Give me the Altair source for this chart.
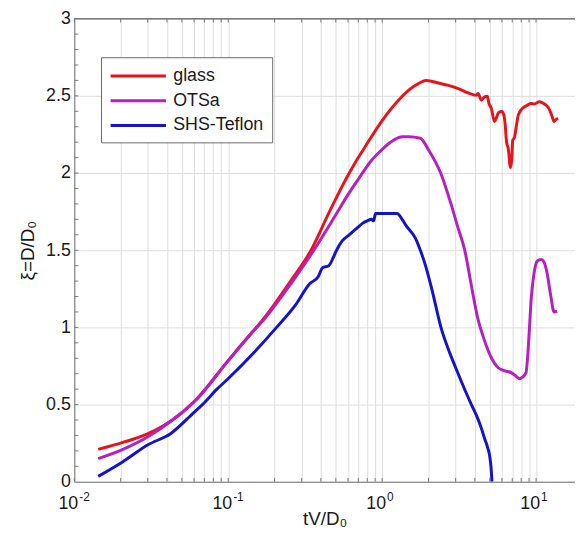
import altair as alt
import pandas as pd

# ---------------- data ----------------
series_names = ["glass", "OTSa", "SHS-Teflon"]
series_colors = ["#e8141c", "#b61fc2", "#1414cc"]

glass_x = [0.0143, 0.0207, 0.0299, 0.0434, 0.063, 0.0991, 0.13, 0.177, 0.25, 0.345, 0.45,
           0.581, 0.7, 0.786, 1.0, 1.3, 1.6, 1.95, 2.32, 2.69, 3.12, 3.62, 4.09, 4.20, 4.41,
           4.63, 4.82, 4.94, 5.12, 5.37, 5.51, 5.70, 5.99, 6.17, 6.30, 6.42, 6.61, 6.81,
           6.95, 7.05, 7.23, 7.41, 7.67, 8.17, 8.81, 9.25, 9.72, 10.5, 11.0, 11.6, 12.1,
           12.6, 13.1, 13.4, 13.9]
glass_y = [0.21, 0.255, 0.31, 0.40, 0.54, 0.78, 0.92, 1.08, 1.29, 1.50, 1.74,
           1.96, 2.10, 2.18, 2.34, 2.48, 2.56, 2.60, 2.583, 2.568, 2.547, 2.519, 2.504, 2.515, 2.472,
           2.494, 2.498, 2.451, 2.419, 2.334, 2.355, 2.391, 2.398, 2.377, 2.313, 2.206, 2.153, 2.036,
           2.089, 2.213, 2.228, 2.291, 2.377, 2.419, 2.44, 2.451, 2.447, 2.462, 2.455, 2.44, 2.419,
           2.377, 2.334, 2.345, 2.355]

otsa_x = [0.0143, 0.0207, 0.0299, 0.0434, 0.063, 0.0991, 0.13, 0.177, 0.25, 0.36, 0.5,
          0.6, 0.7, 0.85, 0.97, 1.1, 1.22, 1.35, 1.49, 1.77, 2.0, 2.4, 2.8, 3.1, 3.44, 3.8,
          4.2, 4.5, 4.86, 5.2, 5.65, 6.2, 6.88, 7.3, 7.78, 8.2, 8.6, 8.8, 9.0, 9.25,
          9.7, 10.2, 10.8, 11.3, 11.8, 12.4, 13.1, 13.7]
otsa_y = [0.15, 0.21, 0.29, 0.40, 0.54, 0.78, 0.92, 1.07, 1.27, 1.50, 1.73,
          1.86, 1.96, 2.08, 2.14, 2.19, 2.22, 2.235, 2.235, 2.225, 2.15, 2.0, 1.8, 1.65, 1.5, 1.27,
          1.05, 0.95, 0.855, 0.79, 0.74, 0.72, 0.707, 0.69, 0.668, 0.68, 0.707, 0.80, 0.95, 1.153,
          1.35, 1.43, 1.44, 1.42, 1.35, 1.217, 1.10, 1.106]

teflon_x = [0.0143, 0.0207, 0.0299, 0.0424, 0.06, 0.068, 0.0845, 0.099, 0.146, 0.206, 0.277,
            0.337, 0.385, 0.41, 0.45, 0.48, 0.50, 0.55, 0.611, 0.68, 0.745, 0.8, 0.85, 0.88,
            0.906, 1.25, 1.35, 1.42, 1.64, 1.77, 1.90, 2.10, 2.41, 2.76, 3.0, 3.3, 3.8,
            4.10, 4.4, 4.63, 4.85, 4.99, 5.1, 5.17]
teflon_y = [0.035, 0.13, 0.238, 0.313, 0.45, 0.5, 0.60, 0.664, 0.834, 1.0, 1.153,
            1.281, 1.33, 1.387, 1.40, 1.45, 1.49, 1.56, 1.60, 1.64, 1.674, 1.69, 1.70, 1.69,
            1.738, 1.738, 1.70, 1.664, 1.58, 1.50, 1.41, 1.25, 1.0, 0.83, 0.74, 0.64, 0.5,
            0.43, 0.35, 0.28, 0.22, 0.17, 0.09, 0.0]

x_grid_values = [0.01, 0.02, 0.03, 0.04, 0.05, 0.06, 0.07, 0.08, 0.09,
                 0.1, 0.2, 0.3, 0.4, 0.5, 0.6, 0.7, 0.8, 0.9,
                 1, 2, 3, 4, 5, 6, 7, 8, 9, 10]
y_major_values = [0, 0.5, 1, 1.5, 2, 2.5, 3]
y_minor_values = [0.1, 0.2, 0.3, 0.4, 0.6, 0.7, 0.8, 0.9, 1.1, 1.2, 1.3, 1.4,
                  1.6, 1.7, 1.8, 1.9, 2.1, 2.2, 2.3, 2.4, 2.6, 2.7, 2.8, 2.9,
                  0.5, 1.0, 1.5, 2.0, 2.5]
decade_values = [0.01, 0.1, 1, 10]
decade_base = ["10", "10", "10", "10"]
decade_exp = ["-2", "-1", "0", "1"]

X_MIN, X_MAX = 0.01, 17.9
Y_MIN, Y_MAX = 0.0, 3.0

# ---------------- tables ----------------
rows = []
for name, xs, ys in zip(series_names, [glass_x, otsa_x, teflon_x], [glass_y, otsa_y, teflon_y]):
    for i, (xv, yv) in enumerate(zip(xs, ys)):
        rows.append({"x": xv, "y": yv, "series": name, "i": i})
df = pd.DataFrame(rows)

xt = pd.DataFrame({"x": x_grid_values})
yt = pd.DataFrame({"y": y_minor_values})
dec = pd.DataFrame({"x": decade_values, "base": decade_base, "exp": decade_exp})

FONT = "Liberation Sans"
xscale = alt.Scale(type="log", domain=[X_MIN, X_MAX], nice=False)
yscale = alt.Scale(domain=[Y_MIN, Y_MAX], nice=False)

lines = alt.Chart(df).mark_line(strokeWidth=3, clip=True, strokeJoin="round",
                                interpolate="monotone").encode(
    x=alt.X("x:Q", scale=xscale,
            axis=alt.Axis(values=x_grid_values, labels=False, ticks=False, grid=True,
                          gridColor="#dedede", gridWidth=1, domainColor="#7a7a7a",
                          title="tV/D₀", titleFontSize=19, titleFont=FONT,
                          titleFontWeight="normal", titleColor="#1a1a1a", titlePadding=28)),
    y=alt.Y("y:Q", scale=yscale,
            axis=alt.Axis(values=y_major_values, ticks=False, grid=True,
                          gridColor="#dedede", gridWidth=1, domainColor="#7a7a7a",
                          labelFontSize=18, labelFont=FONT, labelColor="#1a1a1a",
                          labelPadding=4,
                          labelExpr="datum.value == 0 ? '0' : format(datum.value, '')",
                          title="ξ=D/D₀", titleFontSize=19, titleFont=FONT,
                          titleFontWeight="normal", titleColor="#1a1a1a", titlePadding=8)),
    color=alt.Color("series:N",
                    scale=alt.Scale(domain=series_names, range=series_colors),
                    legend=alt.Legend(title=None, orient="none", legendX=27, legendY=39,
                                      symbolType="M-1,0H5", symbolSize=348,
                                      symbolStrokeWidth=3, labelFontSize=18, labelFont=FONT,
                                      labelColor="#1a1a1a", labelOffset=43,
                                      rowPadding=5, padding=8, strokeColor="#6a6a6a",
                                      fillColor="white")),
    order="i:Q",
)

bottom_ticks = alt.Chart(xt).mark_rule(color="#7a7a7a", strokeWidth=1).encode(
    x=alt.X("x:Q", scale=xscale), y=alt.datum(0.0), y2=alt.datum(0.025))
top_ticks = alt.Chart(xt).mark_rule(color="#7a7a7a", strokeWidth=1).encode(
    x=alt.X("x:Q", scale=xscale), y=alt.datum(3.0), y2=alt.datum(2.975))
left_ticks = alt.Chart(yt).mark_rule(color="#7a7a7a", strokeWidth=1).encode(
    y=alt.Y("y:Q", scale=yscale), x=alt.datum(0.01), x2=alt.datum(0.0106))
top_border = alt.Chart(dec).mark_rule(color="#7a7a7a", strokeWidth=1).encode(
    x=alt.datum(X_MIN), x2=alt.datum(X_MAX), y=alt.datum(Y_MAX))

base_lbl = alt.Chart(dec).mark_text(align="right", baseline="middle", fontSize=18, font=FONT,
                                    color="#1a1a1a", dx=4, dy=23).encode(
    x=alt.X("x:Q", scale=xscale), y=alt.datum(0.0), text="base:N")
exp_lbl = alt.Chart(dec).mark_text(align="left", baseline="middle", fontSize=12, font=FONT,
                                   color="#1a1a1a", dx=5, dy=15).encode(
    x=alt.X("x:Q", scale=xscale), y=alt.datum(0.0), text="exp:N")

chart = alt.layer(lines, bottom_ticks, top_ticks, left_ticks, top_border, base_lbl, exp_lbl).properties(
    width=506, height=468,
    padding={"left": 67, "top": 8, "right": 0, "bottom": 50},
    autosize=alt.AutoSizeParams(type="none"),
).configure_view(stroke=None).configure(background="white")

chart.save("out.html", embed_options={"renderer": "svg", "actions": False})
